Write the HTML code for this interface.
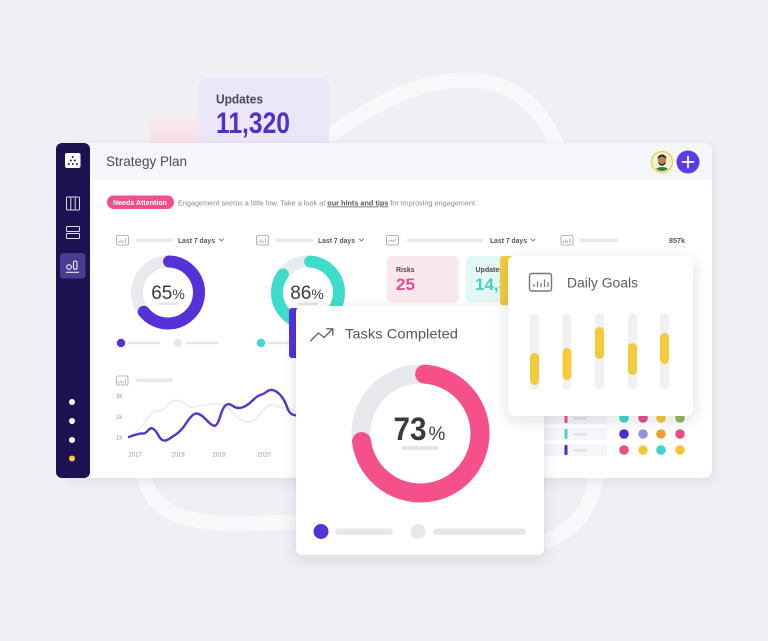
<!DOCTYPE html>
<html><head><meta charset="utf-8">
<style>
html,body{margin:0;padding:0;width:768px;height:641px;overflow:hidden;background:#f0f0f4;}
svg{display:block}
text{font-family:"Liberation Sans",sans-serif}
</style></head><body>
<svg width="768" height="641" viewBox="0 0 768 641" xmlns="http://www.w3.org/2000/svg">
<defs>
<filter id="sh" x="-20%" y="-20%" width="140%" height="140%"><feDropShadow dx="0" dy="3" stdDeviation="5" flood-color="#2a2a55" flood-opacity="0.10"/></filter>
<filter id="sh2" x="-20%" y="-20%" width="140%" height="140%"><feDropShadow dx="0" dy="4" stdDeviation="7" flood-color="#2a2a55" flood-opacity="0.14"/></filter>
<clipPath id="avc"><circle cx="662" cy="162" r="9"/></clipPath>
<linearGradient id="pk" x1="0" y1="0" x2="0" y2="1"><stop offset="0" stop-color="#f8ecf1"/><stop offset="1" stop-color="#f9e1ea"/></linearGradient>
</defs>
<rect width="768" height="641" fill="#f0f0f4"/>

<!-- background swooshes -->
<path d="M330,135 C380,100 420,80 467,80 C510,80 540,105 556,143" fill="none" stroke="#f8f8fb" stroke-width="15" stroke-linecap="round"/>
<path d="M144,478 C154,512 180,522 235,524 L300,522" fill="none" stroke="#f8f8fb" stroke-width="15" stroke-linecap="round"/>
<path d="M596,478 C591,508 578,528 544,542" fill="none" stroke="#f8f8fb" stroke-width="15" stroke-linecap="round"/>

<!-- pink + updates card -->
<rect x="150" y="115" width="60" height="30" rx="3" fill="url(#pk)"/>
<rect x="199" y="78" width="130" height="70" rx="7" fill="#ebe7f9"/>
<text x="216" y="103.5" font-size="13" font-weight="bold" fill="#4a4858" textLength="47" lengthAdjust="spacingAndGlyphs">Updates</text>
<text x="216" y="133" font-size="30" font-weight="bold" fill="#4d33c8" textLength="74" lengthAdjust="spacingAndGlyphs">11,320</text>

<!-- main panel -->
<rect x="70" y="143" width="642" height="335" rx="8" fill="#ffffff" filter="url(#sh)"/>
<path d="M90,143 H704 A8,8 0 0 1 712,151 V180 H90 Z" fill="#f4f6fa"/>
<text x="106" y="166" font-size="14" fill="#4a4a55" textLength="81" lengthAdjust="spacingAndGlyphs">Strategy Plan</text>

<!-- avatar + plus -->
<circle cx="662" cy="162" r="10.5" fill="#fbf3cf" stroke="#f0d24a" stroke-width="1.4"/>
<g clip-path="url(#avc)">
<rect x="650" y="150" width="24" height="24" fill="#f7f1dc"/>
<ellipse cx="662" cy="172" rx="8" ry="5" fill="#2f7d4e"/>
<circle cx="662" cy="160" r="4.2" fill="#b9825a"/>
<path d="M657.8,159 Q662,154 666.2,159 L666.2,157 Q662,152 657.8,157 Z" fill="#2a1d16"/>
<path d="M658.5,161.5 Q662,167 665.5,161.5 L665.5,163.5 Q662,168 658.5,163.5 Z" fill="#2a1d16"/>
</g>
<circle cx="688" cy="162" r="11.5" fill="#5a3de0"/>
<path d="M688,156.5 V167.5 M682.5,162 H693.5" stroke="#fff" stroke-width="1.8" stroke-linecap="round"/>

<!-- needs attention -->
<rect x="107" y="195.5" width="67" height="13.5" rx="6.75" fill="#f0508a"/>
<text x="113" y="205" font-size="7" font-weight="bold" fill="#fff" textLength="54" lengthAdjust="spacingAndGlyphs">Needs Attention</text>
<text x="178" y="205.5" font-size="7.5" fill="#8a8a95" textLength="297" lengthAdjust="spacingAndGlyphs">Engagement seems a little low. Take a look at <tspan font-weight="bold" fill="#55555f" text-decoration="underline">our hints and tips</tspan> for improving engagement</text>

<!-- column header rows -->
<g fill="none" stroke="#a0a0aa" stroke-width="0.8">
<rect x="116.5" y="235.5" width="12" height="9.5" rx="1.5"/>
<rect x="256.5" y="235.5" width="12" height="9.5" rx="1.5"/>
<rect x="386.5" y="235.5" width="12" height="9.5" rx="1.5"/>
<rect x="561" y="235.5" width="12" height="9.5" rx="1.5"/>
<path d="M119,243 V241 M121,243 V239.5 M123,243 V240.5 M125.5,243 V238.5"/>
<path d="M259,243 V241 M261,243 V239.5 M263,243 V240.5 M265.5,243 V238.5"/>
<path d="M388.5,242 L391,240 L393,241.5 L396.5,238.5"/>
<path d="M563.5,243 V241 M565.5,243 V239.5 M567.5,243 V240.5 M570,243 V238.5"/>
</g>
<g fill="#e5e7eb">
<rect x="136" y="238.5" width="37" height="3.5" rx="1.75"/>
<rect x="275" y="238.5" width="38" height="3.5" rx="1.75"/>
<rect x="407" y="238.5" width="76" height="3.5" rx="1.75"/>
<rect x="580" y="238.5" width="38" height="3.5" rx="1.75"/>
</g>
<g font-size="7" font-weight="bold" fill="#55555f">
<text x="178" y="243" textLength="37" lengthAdjust="spacingAndGlyphs">Last 7 days</text>
<text x="318" y="243" textLength="37" lengthAdjust="spacingAndGlyphs">Last 7 days</text>
<text x="490" y="243" textLength="37" lengthAdjust="spacingAndGlyphs">Last 7 days</text>
<text x="669" y="243" textLength="16" lengthAdjust="spacingAndGlyphs">857k</text>
</g>
<g fill="none" stroke="#777" stroke-width="0.9" stroke-linecap="round">
<path d="M219.5,239 L221.5,241 L223.5,239"/>
<path d="M359.5,239 L361.5,241 L363.5,239"/>
<path d="M531,239 L533,241 L535,239"/>
</g>

<!-- donut 1 -->
<circle cx="168" cy="292.5" r="31" fill="none" stroke="#e8eaed" stroke-width="12"/>
<circle cx="168" cy="292.5" r="31" fill="none" stroke="#5532d8" stroke-width="12" stroke-linecap="round" stroke-dasharray="124 300" transform="rotate(-88 168 292.5)"/>
<text x="168" y="299" font-size="19" fill="#3a3a45" text-anchor="middle">65<tspan font-size="14">%</tspan></text>
<rect x="158" y="302.5" width="20" height="2.5" rx="1.25" fill="#e3e5e9"/>

<!-- donut 2 -->
<circle cx="308" cy="292.5" r="31" fill="none" stroke="#e8eaed" stroke-width="12"/>
<circle cx="308" cy="292.5" r="31" fill="none" stroke="#40dccb" stroke-width="12" stroke-linecap="round" stroke-dasharray="163 300" transform="rotate(-86 308 292.5)"/>
<text x="307" y="299" font-size="19" fill="#3a3a45" text-anchor="middle">86<tspan font-size="14">%</tspan></text>
<rect x="298" y="302.5" width="20" height="2.5" rx="1.25" fill="#e3e5e9"/>

<!-- donut legends -->
<circle cx="121" cy="343" r="4.2" fill="#5532d8"/>
<rect x="128" y="341.8" width="32" height="2.5" rx="1.25" fill="#e3e5e9"/>
<circle cx="178" cy="343" r="4.2" fill="#e5e7ea"/>
<rect x="186" y="341.8" width="32" height="2.5" rx="1.25" fill="#e3e5e9"/>
<circle cx="261" cy="343" r="4.2" fill="#40dccb"/>
<rect x="268" y="341.8" width="32" height="2.5" rx="1.25" fill="#e3e5e9"/>

<!-- risks / updates small cards -->
<rect x="387" y="256" width="72" height="46.5" rx="5" fill="#fbe8ef"/>
<text x="396" y="272" font-size="7" font-weight="bold" fill="#4a4a55">Risks</text>
<text x="396" y="290" font-size="17" font-weight="bold" fill="#e94d87">25</text>
<rect x="466" y="256" width="60" height="46.5" rx="5" fill="#e3f7f5"/>
<text x="475.5" y="272" font-size="7" font-weight="bold" fill="#4a4a55">Updates</text>
<text x="475" y="290" font-size="17" font-weight="bold" fill="#45d2c4">14,320</text>

<!-- line chart -->
<rect x="116.5" y="376" width="11.5" height="9" rx="1.5" fill="none" stroke="#a0a0aa" stroke-width="0.8"/>
<path d="M119,383.5 V381.5 M121,383.5 V380 M123,383.5 V381 M125.5,383.5 V379" stroke="#a0a0aa" stroke-width="0.8"/>
<rect x="136" y="378.5" width="37" height="3.5" rx="1.75" fill="#e5e7eb"/>
<g font-size="6" fill="#9a9aa5">
<text x="116" y="398">3k</text>
<text x="116" y="419">2k</text>
<text x="116" y="439.5">1k</text>
<text x="135" y="456.5" text-anchor="middle">2017</text>
<text x="178" y="456.5" text-anchor="middle">2018</text>
<text x="219" y="456.5" text-anchor="middle">2019</text>
<text x="264" y="456.5" text-anchor="middle">2020</text>
</g>
<path d="M129,437 Q140,430 146.5,420 Q153,410 157.5,411 Q162,412 167.5,405.5 Q173,399 178,400.5 Q183,402 186.5,405 Q190,408 196.5,406.5 Q203,405 213,404 Q223,403 226.5,406.5 Q230,410 235,415 Q240,420 246.5,421.5 Q253,423 258,416.5 Q263,410 267.5,406.5 Q272,403 276,405.5 Q280,408 285,407.5 Q290,407 296,412" fill="none" stroke="#eaeaee" stroke-width="1.5"/>
<path d="M129,437 Q140,433 142.5,433.5 Q145,434 148,430.5 Q151,427 153.5,429 Q156,431 158.5,435.5 Q161,440 163.5,440.5 Q166,441 169,439 Q172,437 176.5,434 Q181,431 187,422 Q193,413 197,413.5 Q201,414 207,420.5 Q213,427 215.5,425.5 Q218,424 220.5,415.5 Q223,407 226,405 Q229,403 233,406 Q237,409 242,407.5 Q247,406 252,401 Q257,396 260.5,395 Q264,394 267,391.5 Q270,389 274,390.5 Q278,392 281.5,396.5 Q285,401 287,407 Q289,413 292.5,414.5 L298,416" fill="none" stroke="#5535c9" stroke-width="2.4" stroke-linecap="round"/>

<!-- bottom right rows -->
<g fill="#f4f6f9">
<rect x="544" y="412" width="63" height="12" rx="2"/>
<rect x="544" y="428" width="63" height="12" rx="2"/>
<rect x="544" y="444" width="63" height="12" rx="2"/>
</g>
<rect x="564.5" y="413" width="3" height="10" rx="1" fill="#e84d87"/>
<rect x="564.5" y="429" width="3" height="10" rx="1" fill="#40d8c8"/>
<rect x="564.5" y="445" width="3" height="10" rx="1" fill="#4a2dd0"/>
<g fill="#dfe2e6">
<rect x="573" y="417" width="14" height="2.5" rx="1.25"/>
<rect x="573" y="433" width="14" height="2.5" rx="1.25"/>
<rect x="573" y="449" width="14" height="2.5" rx="1.25"/>
</g>
<circle cx="624" cy="418" r="4.8" fill="#3ed6c8"/>
<circle cx="643" cy="418" r="4.8" fill="#e84d87"/>
<circle cx="661" cy="418" r="4.8" fill="#f2c83a"/>
<circle cx="680" cy="418" r="4.8" fill="#96b65c"/>
<circle cx="624" cy="434" r="4.8" fill="#4a2dd0"/>
<circle cx="643" cy="434" r="4.8" fill="#9b8edf"/>
<circle cx="661" cy="434" r="4.8" fill="#ee9f35"/>
<circle cx="680" cy="434" r="4.8" fill="#e84d87"/>
<circle cx="624" cy="450" r="4.8" fill="#e84d87"/>
<circle cx="643" cy="450" r="4.8" fill="#f2c83a"/>
<circle cx="661" cy="450" r="4.8" fill="#3ed6c8"/>
<circle cx="680" cy="450" r="4.8" fill="#f2c83a"/>

<!-- sidebar -->
<rect x="56" y="143" width="34" height="335" rx="6" fill="#1e1152"/>
<rect x="65" y="153" width="15.5" height="15" rx="2" fill="#ffffff"/>
<g fill="#1e1152">
<circle cx="72.8" cy="157" r="1"/>
<circle cx="70.8" cy="160.5" r="1"/><circle cx="74.8" cy="160.5" r="1"/>
<circle cx="68.8" cy="164" r="1"/><circle cx="72.8" cy="164" r="1"/><circle cx="76.8" cy="164" r="1"/>
</g>
<g fill="none" stroke="#ffffff" stroke-width="1" opacity="0.85">
<rect x="66.5" y="197" width="13" height="13" rx="1"/>
<path d="M70.8,197 V210 M75.2,197 V210"/>
<rect x="66.5" y="226.5" width="13" height="5" rx="0.8"/>
<rect x="66.5" y="233.5" width="13" height="5" rx="0.8"/>
</g>
<rect x="60" y="253" width="25.5" height="25.5" rx="3" fill="#4a3c8e"/>
<g fill="none" stroke="#ffffff" stroke-width="1.1" opacity="0.9">
<circle cx="69" cy="267" r="2.3"/>
<rect x="73.5" y="261" width="3.5" height="8.3" rx="1.5"/>
<path d="M66,272.3 H79"/>
</g>
<circle cx="72" cy="402" r="3" fill="#ffffff"/>
<circle cx="72" cy="421" r="3" fill="#ffffff"/>
<circle cx="72" cy="440" r="3" fill="#ffffff"/>
<circle cx="72" cy="458.5" r="3" fill="#f4cb3c"/>

<!-- purple strip + yellow strip -->
<rect x="289" y="308" width="12" height="50" rx="3" fill="#5532d8"/>
<rect x="500" y="256" width="14" height="49" rx="3" fill="#f4cb3c"/>

<!-- tasks completed card -->
<rect x="296" y="306" width="248" height="249" rx="6" fill="#ffffff" filter="url(#sh2)"/>
<path d="M310.5,341 L318.5,333 L324,337.5 L332.5,329 M326.5,328.8 H332.8 V335" fill="none" stroke="#66666f" stroke-width="1.4" stroke-linecap="round" stroke-linejoin="round"/>
<text x="345" y="338.5" font-size="14" fill="#55555f" textLength="113" lengthAdjust="spacingAndGlyphs">Tasks Completed</text>
<circle cx="420.5" cy="433.5" r="59.5" fill="none" stroke="#e7e9ec" stroke-width="19"/>
<circle cx="420.5" cy="433.5" r="59.5" fill="none" stroke="#f5508a" stroke-width="19" stroke-linecap="round" stroke-dasharray="268 400" transform="rotate(-86 420.5 433.5)"/>
<text x="410" y="440" font-size="32" font-weight="bold" fill="#3a3a44" text-anchor="middle" textLength="33" lengthAdjust="spacingAndGlyphs">73</text>
<text x="437" y="440" font-size="19" fill="#3a3a44" text-anchor="middle">%</text>
<rect x="401" y="446" width="38" height="4" rx="2" fill="#e3e5e9"/>
<circle cx="321" cy="531.5" r="7.5" fill="#5532d8"/>
<rect x="335" y="528.5" width="58" height="6.5" rx="3.25" fill="#e6e8eb"/>
<circle cx="418" cy="531.5" r="7.5" fill="#e6e8eb"/>
<rect x="433" y="528.5" width="93" height="6.5" rx="3.25" fill="#e6e8eb"/>

<!-- daily goals card -->
<rect x="508" y="256" width="185" height="160" rx="6" fill="#ffffff" filter="url(#sh2)"/>
<rect x="529.5" y="273.5" width="22" height="17.5" rx="2" fill="none" stroke="#77777f" stroke-width="1.4"/>
<path d="M534,287 V284 M537.5,287 V281.5 M541,287 V283 M544.5,287 V279.5 M548,287 V282" stroke="#77777f" stroke-width="1.2"/>
<text x="567" y="287.5" font-size="14" fill="#5a5a66" textLength="71" lengthAdjust="spacingAndGlyphs">Daily Goals</text>
<g fill="#f1f1f3">
<rect x="530" y="313" width="9" height="77" rx="4.5"/>
<rect x="562.5" y="313" width="9" height="77" rx="4.5"/>
<rect x="595" y="313" width="9" height="77" rx="4.5"/>
<rect x="628" y="313" width="9" height="77" rx="4.5"/>
<rect x="660" y="313" width="9" height="77" rx="4.5"/>
</g>
<g fill="#f4cb3c">
<rect x="530" y="353" width="9" height="32" rx="4.5"/>
<rect x="562.5" y="348" width="9" height="32" rx="4.5"/>
<rect x="595" y="327" width="9" height="32" rx="4.5"/>
<rect x="628" y="343" width="9" height="32" rx="4.5"/>
<rect x="660" y="333" width="9" height="31" rx="4.5"/>
</g>
</svg>
</body></html>
